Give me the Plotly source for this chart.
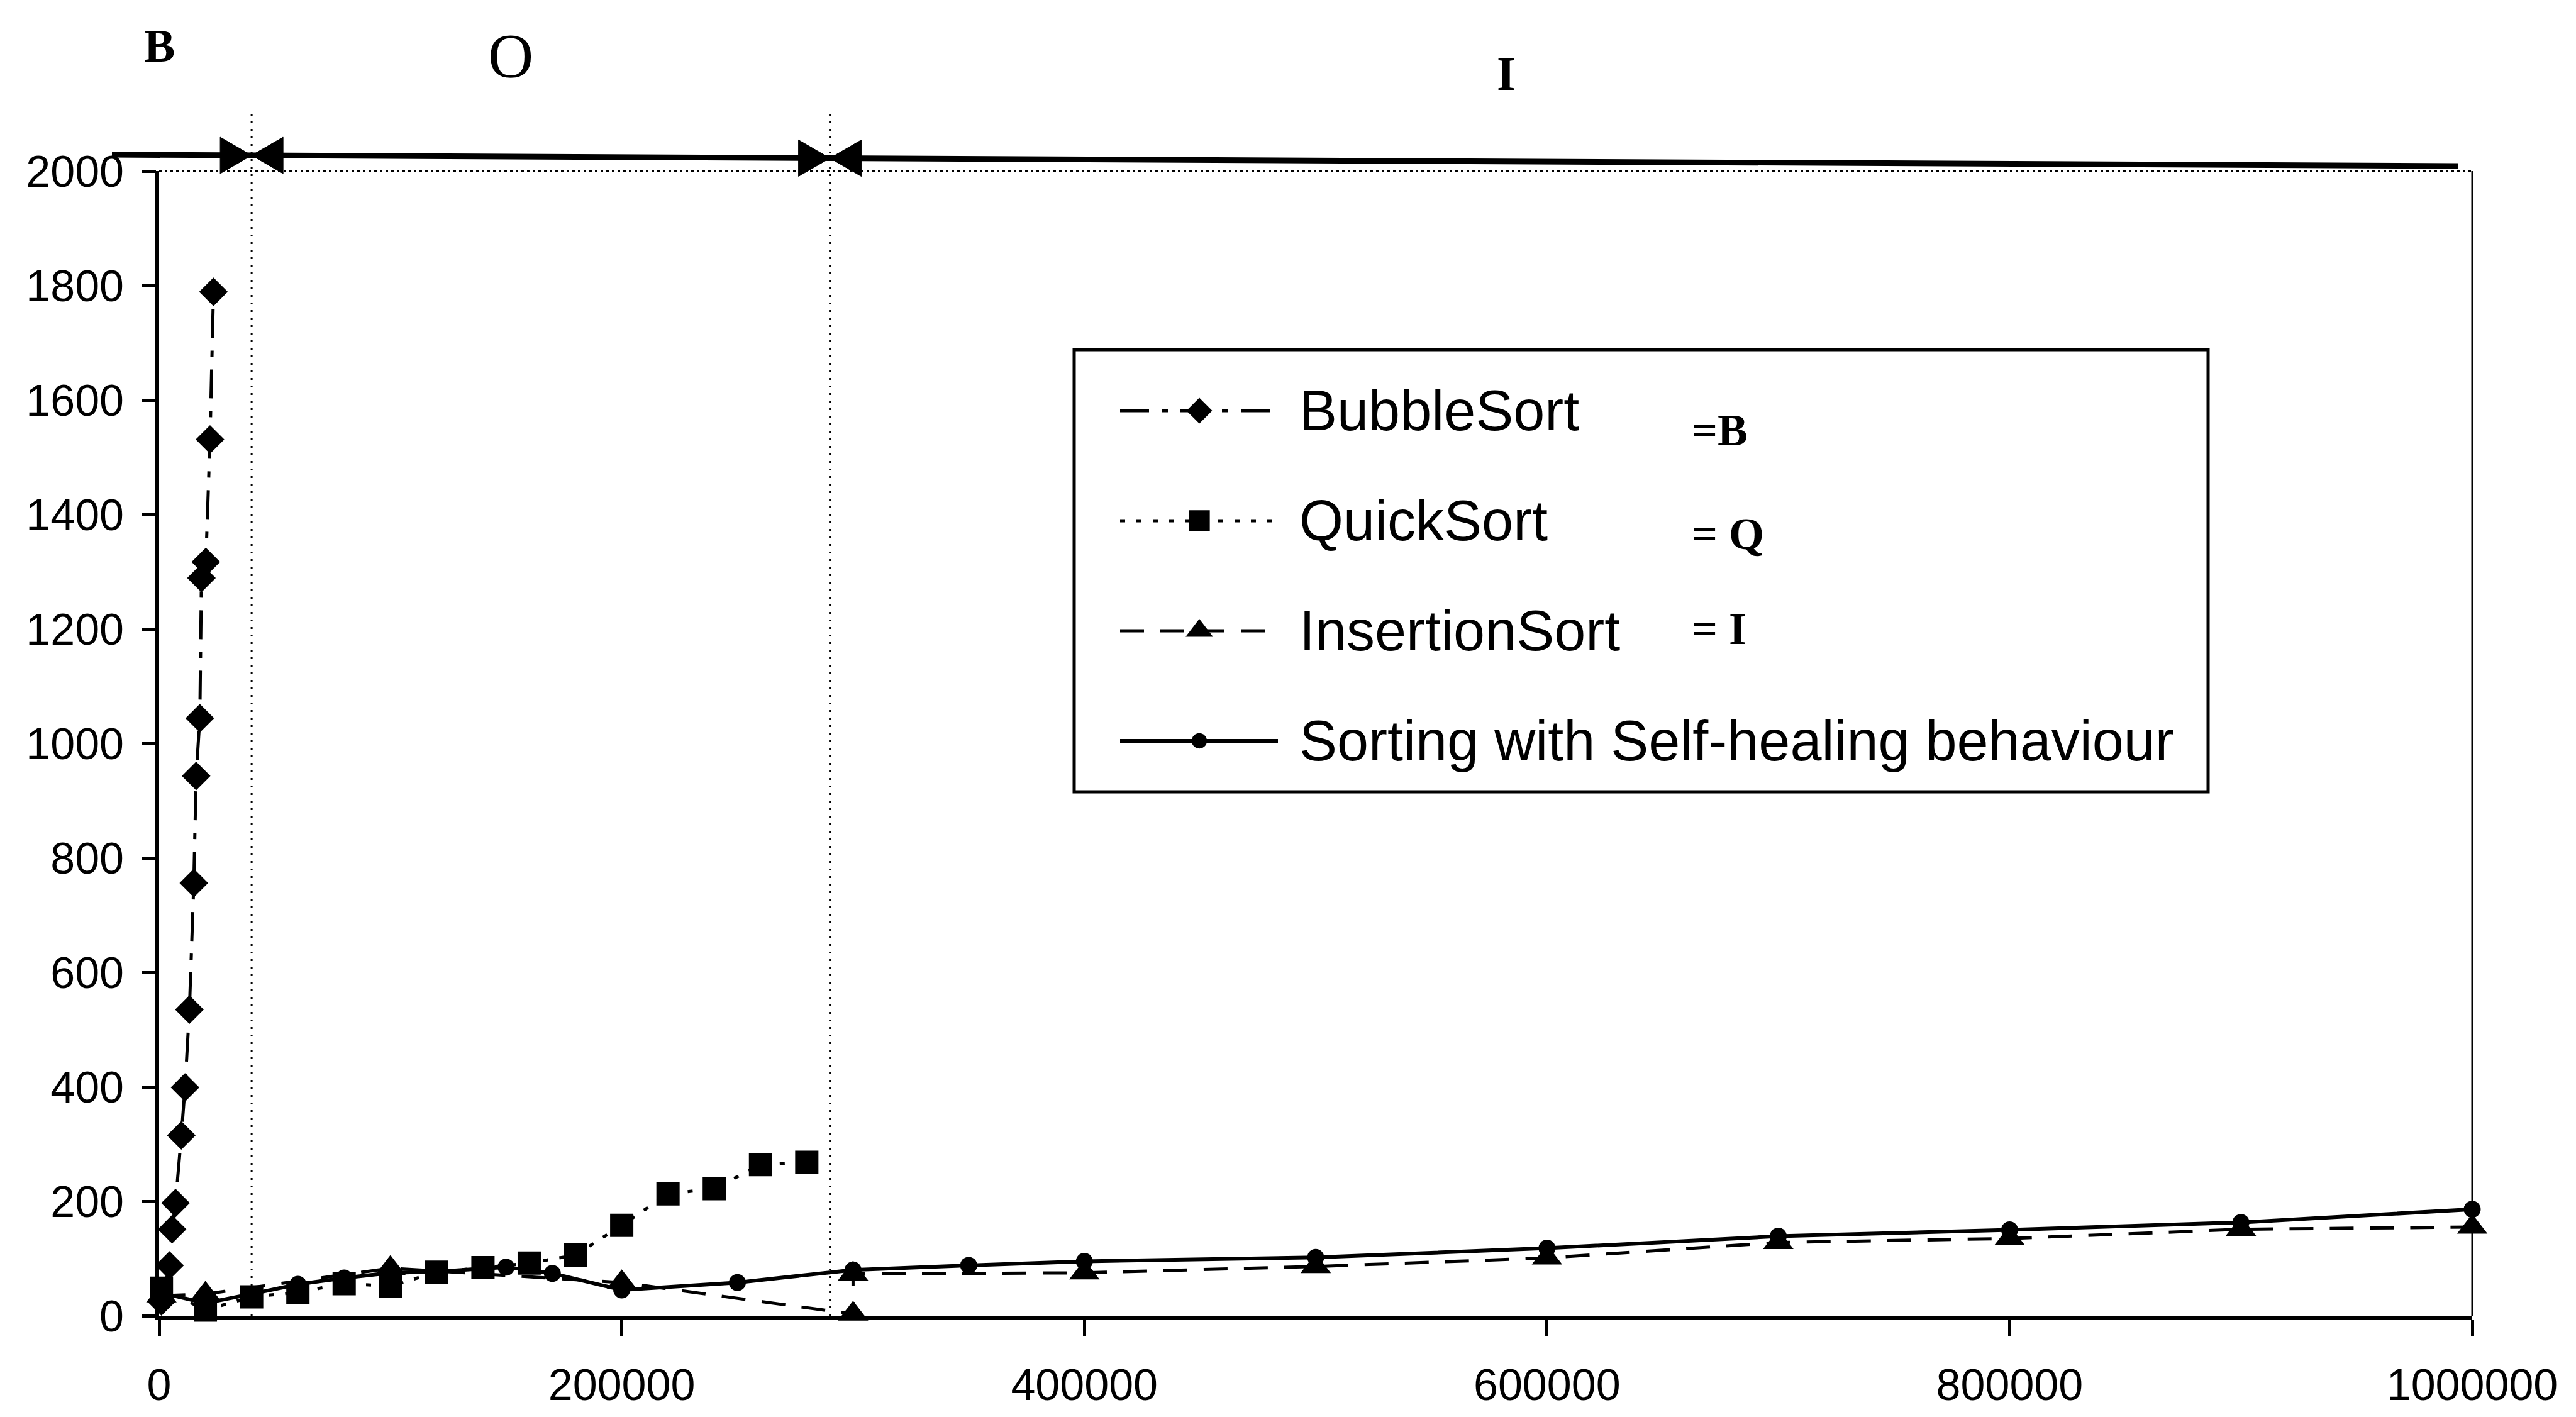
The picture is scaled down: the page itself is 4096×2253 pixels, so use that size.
import plotly.graph_objects as go

# ---------------- data ----------------
bubble_n = [1000, 4500, 5600, 7100, 9600, 11200, 13100, 15000, 16000, 17600, 18300, 20200, 22000, 23500]
bubble_t = [25, 88, 151, 197, 315, 399, 535, 756, 943, 1044, 1289, 1317, 1531, 1789]

quick_n = [1000, 20000, 40000, 60000, 80000, 100000, 120000, 140000, 160000, 180000,
           200000, 220000, 240000, 260000, 280000]
quick_t = [48, 10, 33, 41, 56, 52, 76, 84, 92, 106, 158, 213, 222, 264, 268]

insert_n = [1000, 20000, 100000, 200000, 300000, 300000, 400000, 500000, 600000,
            700000, 800000, 900000, 1000000]
insert_t = [35, 38, 83, 58, 3, 73, 75, 86, 101, 128, 135, 151, 155]

heal_n = [1000, 20000, 40000, 60000, 80000, 100000, 120000, 150000, 170000, 200000,
          250000, 300000, 350000, 400000, 500000, 600000, 700000, 800000, 900000, 1000000]
heal_t = [40, 22, 38, 55, 66, 75, 77, 85, 74, 45, 58, 80, 88, 95, 102, 118, 139, 150, 163, 186]

# region boundaries (B | O | I) and their labels
boundary_n = [40000, 290000]
region_labels = ["B", "O", "I"]

series_names = ["BubbleSort", "QuickSort", "InsertionSort", "Sorting with Self-healing behaviour"]
series_keys = ["=B", "= Q", "= I", ""]

x_ticks = [0, 200000, 400000, 600000, 800000, 1000000]
y_ticks = list(range(0, 2001, 200))

# ---------------- geometry (window pixels) ----------------
W, H = 4096, 2253
L, R, T, B = 253, 3931, 272, 2092


def px(x):
    return (x - L) / (R - L)


def py(y):
    return (B - y) / (B - T)


SANS = "Liberation Sans, Arial, sans-serif"
SERIF = "Liberation Serif, Times New Roman, serif"

styles = [
    dict(dash="46px,20px,10px,20px", width=5, symbol="diamond", size=35),
    dict(dash="8px,18px", width=5, symbol="square", size=37),
    dict(dash="38px,26px", width=5, symbol="triangle-up", size=42),
    dict(dash="solid", width=6, symbol="circle", size=27),
]
data = [(bubble_n, bubble_t), (quick_n, quick_t), (insert_n, insert_t), (heal_n, heal_t)]

fig = go.Figure()

for (xs, ys), st, name in zip(data, styles, series_names):
    fig.add_trace(go.Scatter(
        x=xs, y=ys, mode="lines+markers", name=name, showlegend=False,
        line=dict(color="black", width=st["width"], dash=st["dash"]),
        marker=dict(symbol=st["symbol"], size=st["size"], color="black"),
        cliponaxis=False,
    ))

# ---------------- hand-drawn legend ----------------
box = (1708, 556, 3511, 1259)
row_y = [653, 828, 1003, 1178]
key_y = [684, 849, 1000, None]
sample_x0, sample_x1, sample_mid, text_x, key_x = 1781, 2032, 1907, 2064, 2688

for st, name, key, ry, ky in zip(styles, series_names, series_keys, row_y, key_y):
    fig.add_trace(go.Scatter(
        x=[px(sample_x0), px(sample_x1)], y=[py(ry), py(ry)], xaxis="x2", yaxis="y2",
        mode="lines", showlegend=False, hoverinfo="skip",
        line=dict(color="black", width=st["width"], dash=st["dash"]),
    ))
    fig.add_trace(go.Scatter(
        x=[px(sample_mid)], y=[py(ry)], xaxis="x2", yaxis="y2",
        mode="markers", showlegend=False, hoverinfo="skip",
        marker=dict(symbol=st["symbol"], size=st["size"] * 0.9, color="black"),
    ))
    fig.add_annotation(
        x=px(text_x), y=py(ry), xref="paper", yref="paper", text=name,
        showarrow=False, xanchor="left", yanchor="middle",
        font=dict(family=SANS, size=90, color="black"),
    )
    if key:
        fig.add_annotation(
            x=px(key_x), y=py(ky), xref="paper", yref="paper", text="<b>%s</b>" % key,
            showarrow=False, xanchor="left", yanchor="middle",
            font=dict(family=SERIF, size=72, color="black"),
        )

shapes = [
    # legend frame
    dict(type="rect", xref="paper", yref="paper", x0=px(box[0]), x1=px(box[2]),
         y0=py(box[3]), y1=py(box[1]), line=dict(color="black", width=5),
         fillcolor="white", layer="below"),
    # dotted top border of the plot area
    dict(type="line", xref="paper", yref="paper", x0=px(235), x1=1, y0=1, y1=1,
         line=dict(color="black", width=3, dash="4px,5px")),
    # right border
    dict(type="line", xref="paper", yref="paper", x0=1, x1=1, y0=0, y1=1,
         line=dict(color="black", width=3)),
]

# region boundaries
for nb in boundary_n:
    shapes.append(dict(type="line", xref="x", yref="paper", x0=nb, x1=nb, y0=0, y1=py(178),
                       line=dict(color="black", width=3, dash="3px,9px")))

# thick bracket line on top with arrow heads meeting at each boundary
top_x0, top_y0, top_x1, top_y1 = 178, 246, 3908, 264
shapes.append(dict(type="line", xref="paper", yref="paper",
                   x0=px(top_x0), y0=py(top_y0), x1=px(top_x1), y1=py(top_y1),
                   line=dict(color="black", width=9)))
tri_w, tri_h = 50, 58
for nb in boundary_n:
    xb = L + nb / 1e6 * (R - L)
    yb = top_y0 + (xb - top_x0) / (top_x1 - top_x0) * (top_y1 - top_y0)
    for side in (-1, 1):
        back = xb + side * tri_w
        path = "M %.5f,%.5f L %.5f,%.5f L %.5f,%.5f Z" % (
            px(back), py(yb - tri_h / 2), px(back), py(yb + tri_h / 2), px(xb), py(yb))
        shapes.append(dict(type="path", xref="paper", yref="paper", path=path,
                           fillcolor="black", line=dict(color="black", width=1)))

fig.update_layout(shapes=shapes)

# region letters above the chart
label_pos = [(253, 73, 74, True), (812, 89, 100, False), (2395, 117, 76, True)]
for lab, (lx, ly, fs, bold) in zip(region_labels, label_pos):
    fig.add_annotation(
        x=px(lx), y=py(ly), xref="paper", yref="paper",
        text=("<b>%s</b>" % lab) if bold else lab, showarrow=False,
        xanchor="center", yanchor="middle",
        font=dict(family=SERIF, size=fs, color="black"),
    )

fig.update_layout(
    width=W, height=H,
    margin=dict(l=L, r=W - R, t=T, b=H - B, autoexpand=False),
    paper_bgcolor="white", plot_bgcolor="white",
    showlegend=False,
    xaxis=dict(range=[0, 1000000], tickvals=x_ticks, ticktext=[str(v) for v in x_ticks],
               showgrid=False, zeroline=False, showline=True, linecolor="black", linewidth=7,
               ticks="outside", ticklen=26, tickwidth=5, tickcolor="black",
               ticklabelstandoff=17,
               tickfont=dict(family=SANS, size=70, color="black")),
    yaxis=dict(range=[0, 2000], tickvals=y_ticks, ticktext=[str(v) for v in y_ticks],
               showgrid=False, zeroline=False, showline=True, linecolor="black", linewidth=6,
               ticks="outside", ticklen=22, tickwidth=5, tickcolor="black",
               ticklabelstandoff=14,
               tickfont=dict(family=SANS, size=70, color="black")),
    xaxis2=dict(overlaying="x", range=[0, 1], visible=False),
    yaxis2=dict(overlaying="y", range=[0, 1], visible=False),
)

fig.write_html("out.html")
